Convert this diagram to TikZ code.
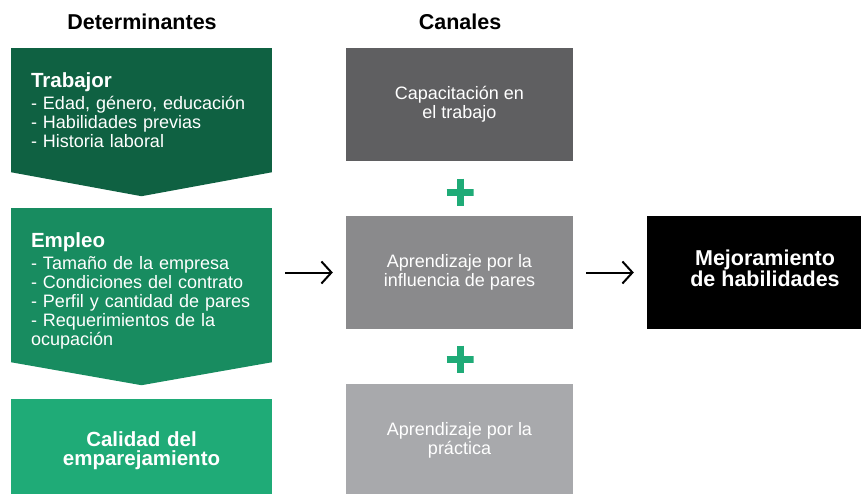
\documentclass[tikz,border=0pt]{standalone}
\usepackage{fontspec}
\setmainfont{Liberation Sans}
\usetikzlibrary{arrows.meta,positioning,calc,backgrounds}
\definecolor{verdeosc}{HTML}{0F6142}
\definecolor{verdemed}{HTML}{188C60}
\definecolor{verdeclaro}{HTML}{1FAB77}
\definecolor{grisosc}{HTML}{5F5F61}
\definecolor{grismed}{HTML}{8A8A8C}
\definecolor{grisclaro}{HTML}{A8A9AC}
\newcommand{\dettit}{\fontsize{20.5}{22}\selectfont\bfseries}
\tikzset{
  >={Straight Barb[length=10pt,width=22pt]},
  titulo/.style={font=\fontsize{21.5}{24}\selectfont\bfseries,inner sep=0pt},
  % determinantes
  det/.style={text=white,inner xsep=20pt,inner ysep=0pt,text width=221pt,
              align=left,minimum height=#1,font=\fontsize{18}{19}\selectfont},
  punta/.style={fill=#1},
  % canales
  canal/.style={fill=#1,text=white!92,minimum width=227pt,minimum height=113pt,
                inner sep=0pt,align=center,font=\fontsize{18}{19}\selectfont},
  mas/.style={minimum size=27pt,inner sep=0pt,
              path picture={\draw[verdeclaro,line width=7pt]
                (path picture bounding box.north) -- (path picture bounding box.south)
                (path picture bounding box.west) -- (path picture bounding box.east);}},
  flecha/.style={->,line width=2pt,shorten <=13pt,shorten >=13pt},
  resultado/.style={fill=black,text=white,minimum width=236pt,minimum height=113pt,
                    inner sep=0pt,align=center,font=\fontsize{21.5}{17}\selectfont\bfseries},
}
\begin{document}
\begin{tikzpicture}[x=1pt,y=-1pt]
\useasboundingbox (0,0) rectangle (861,493);
  \node[titulo] (tdet) at (142,22) {Determinantes};
  \node[titulo] (tcan) at (460,22) {Canales};
  % determinantes
  \node[det=124pt,fill=verdeosc] (trab) at (141.5,110)
    {{\dettit Trabajor}\\[3pt]- Edad, género, educación\\- Habilidades previas\\- Historia laboral};
  \node[det=154pt,fill=verdemed] (empleo) at (141.5,285)
    {{\dettit\rule{0pt}{26pt}Empleo}\\[3pt]- Tamaño de la empresa\\- Condiciones del contrato\\- Perfil y cantidad de pares\\- Requerimientos de la\\ocupación};
  \node[det=104pt,fill=verdeclaro,align=center,font=\fontsize{20.5}{19}\selectfont\bfseries] (calidad) at (141.5,451)
    {Calidad del\\emparejamiento};
  \fill[punta=verdeosc] (trab.south west) -- (trab.south east) -- ([yshift=-24pt]trab.south) -- cycle;
  \fill[punta=verdemed] (empleo.south west) -- (empleo.south east) -- ([yshift=-23pt]empleo.south) -- cycle;
  % canales
  \node[canal=grisosc] (capac) at (459.5,104.5) {Capacitación en\\el trabajo};
  \node[canal=grismed] (pares) at (459.5,272.5) {Aprendizaje por la\\influencia de pares};
  \node[canal=grisclaro] (practica) at (459.5,440.5) {Aprendizaje por la\\práctica};
  \node[mas] (mas1) at (460,192) {};
  \node[mas] (mas2) at (460,359) {};
  % resultado
  \node[resultado] (mejora) at (765,272.5) {Mejoramiento\\de habilidades\rule[-8pt]{0pt}{0pt}};
  \draw[flecha] (empleo.east |- pares.west) -- (pares.west);
  \draw[flecha] (pares.east) -- (mejora.west);
\end{tikzpicture}
\end{document}
